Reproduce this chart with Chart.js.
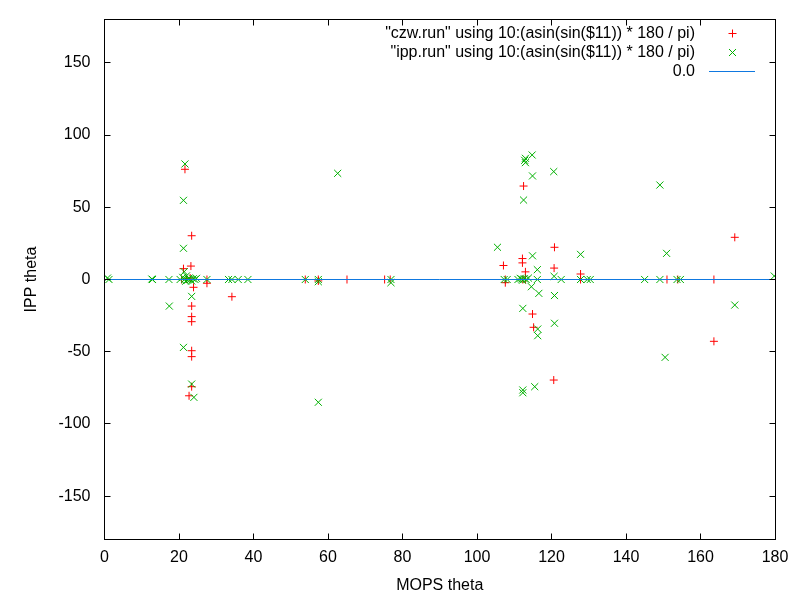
<!DOCTYPE html>
<html>
<head>
<meta charset="utf-8">
<script src="https://cdn.jsdelivr.net/npm/chart.js@4"></script>
<style>
  html, body { margin: 0; padding: 0; background: #fff; }
  #wrap { width: 800px; height: 600px; }
</style>
</head>
<body>
<div id="wrap"><canvas id="theta"></canvas></div>
<script>
// czw.run points (red +)
const czwX = [21.6, 23.4, 23.2, 21.2, 20.7, 22.0, 23.0, 23.9, 23.4, 23.4, 23.4, 23.4, 23.4, 23.4, 22.7,
  27.5, 27.5, 34.2, 53.9, 57.4, 57.4, 65.1, 75.2, 76.7, 107.1, 107.6, 107.6, 112.5, 120.8, 112.2,
  112.2, 113.0, 120.7, 127.8, 127.8, 112.3, 113.0, 114.9, 115.2, 120.6, 151.0, 153.9, 163.6, 163.6, 169.2];
const czwY = [76.3, 30.3, 9.3, 7.5, 0, 0.3, 1.0, -5.4, -18.4, -25.7, -29.2, -49.3, -53.4, -74.2, -80.5,
  0, -2.6, -11.9, 0, 0, -1, 0, 0, 0, 9.7, 0, -2.2, 64.7, 22.3, 14.5,
  11.5, 5.3, 7.9, 3.8, 0, 0, 0, -23.9, -33.1, -69.6, 0, 0, 0, -42.8, 29.2];

// ipp.run points (green x)
const ippX = [0.8, 1.2, 12.7, 12.9, 17.3, 20.3, 21.6, 21.2, 21.2, 21.4,
  21.0, 21.5, 22.0, 22.3, 22.7, 23.0, 23.4, 23.8, 24.3, 24.7, 21.8, 22.5,
  23.4, 17.4, 21.2, 23.4, 24.0, 27.5, 33.3, 34.2, 35.9, 38.5,
  53.9, 57.4, 57.4, 62.6, 76.9, 76.9, 57.4,
  114.8, 113.0, 113.0, 112.8, 114.9, 120.6, 112.5, 105.5, 114.9, 127.8, 116.2, 120.7, 107.3, 108.1,
  111.0, 111.6, 112.2, 112.7, 113.2, 113.8, 112.0,
  116.2, 122.6, 127.8, 129.6, 130.4, 114.6, 116.6, 120.8, 112.3, 120.8, 116.3, 116.3, 115.5, 112.3, 112.3,
  149.1, 150.9, 145.0, 149.1, 153.7, 154.6, 179.8, 169.2, 150.5];
const ippY = [1, 0, 0.3, 0, 0, 0, 80, 54.8, 21.6, 5.4,
  1.5, 0, 2.5, -0.5, 1, 0, -1, 0.5, 0, 0.8, -1.2, 0.3,
  -11.7, -18.4, -47, -72.4, -81.6, 0, 0, 0, 0, 0,
  0, 0, -1.5, 73.5, 0, -2.2, -85,
  86.2, 83.9, 80.9, 82.5, 71.7, 74.7, 55, 22.3, 16.4, 17.4, 6.8, 2.2, 0, 0,
  0, 0.8, -0.5, 0.5, 0, 1, 0.3,
  0, 0, 0, 0, 0, -5, -9.6, -11.1, -20, -30.3, -34.3, -38.9, -74.2, -76.5, -78.4,
  65.4, 18.1, 0, 0, 0, 0, 2.4, -17.7, -53.9];

const xTicks = [0, 20, 40, 60, 80, 100, 120, 140, 160, 180];
const yTicks = [-150, -100, -50, 0, 50, 100, 150];
const legendLabels = [
  '"czw.run" using 10:(asin(sin($11)) * 180 / pi)',
  '"ipp.run" using 10:(asin(sin($11)) * 180 / pi)',
  "0.0",
];

const RED = "#ff0000";
const GREEN = "#00b000";
const BLUE = "#0f78e0";
const FONT = "Liberation Sans";
const FSIZE = 16;

function zip(xs, ys) {
  return xs.map((x, i) => ({ x: x, y: ys[i] }));
}

// inward ticks on all four sides + frame, like gnuplot
const frameTicks = {
  id: "frameTicks",
  afterDraw(chart) {
    const c = chart.ctx;
    const a = chart.chartArea;
    const xs = chart.scales.x;
    const ys = chart.scales.y;
    const len = 6;
    const L = Math.floor(a.left) + 0.5, R = Math.floor(a.right) + 0.5;
    const T = Math.floor(a.top) + 0.5, B = Math.floor(a.bottom) + 0.5;
    c.save();
    c.strokeStyle = "#000";
    c.lineWidth = 1;
    c.beginPath();
    xTicks.forEach((v) => {
      const px = Math.floor(xs.getPixelForValue(v)) + 0.5;
      c.moveTo(px, B);
      c.lineTo(px, B - len);
      c.moveTo(px, T);
      c.lineTo(px, T + len);
    });
    yTicks.forEach((v) => {
      const py = Math.floor(ys.getPixelForValue(v)) + 0.5;
      c.moveTo(L, py);
      c.lineTo(L + len, py);
      c.moveTo(R, py);
      c.lineTo(R - len, py);
    });
    c.stroke();
    c.strokeRect(L, T, R - L, B - T);
    c.restore();
  },
};

// gnuplot style key: text right-aligned, sample on the right
const keyBox = {
  id: "keyBox",
  afterDraw(chart) {
    const c = chart.ctx;
    const textRight = 695;
    const sampleX = 732.5;
    const rows = [33.5, 52.5, 71.5];
    c.save();
    c.font = FSIZE + "px '" + FONT + "'";
    c.fillStyle = "#000";
    c.textAlign = "right";
    c.textBaseline = "middle";
    legendLabels.forEach((t, i) => c.fillText(t, textRight, rows[i]));
    c.lineWidth = 1;
    c.strokeStyle = RED;
    c.beginPath();
    c.moveTo(sampleX - 4, rows[0]);
    c.lineTo(sampleX + 4, rows[0]);
    c.moveTo(sampleX, rows[0] - 4);
    c.lineTo(sampleX, rows[0] + 4);
    c.stroke();
    c.strokeStyle = GREEN;
    c.beginPath();
    c.moveTo(sampleX - 3.5, rows[1] - 3.5);
    c.lineTo(sampleX + 3.5, rows[1] + 3.5);
    c.moveTo(sampleX + 3.5, rows[1] - 3.5);
    c.lineTo(sampleX - 3.5, rows[1] + 3.5);
    c.stroke();
    c.strokeStyle = BLUE;
    c.beginPath();
    c.moveTo(709, rows[2]);
    c.lineTo(755, rows[2]);
    c.stroke();
    c.restore();
  },
};

new Chart(document.getElementById("theta"), {
  type: "scatter",
  data: {
    datasets: [
      {
        label: legendLabels[0],
        data: zip(czwX, czwY),
        pointStyle: "cross",
        pointRadius: 4,
        pointHoverRadius: 4,
        borderColor: RED,
        backgroundColor: RED,
        pointBorderWidth: 1,
        order: 3,
      },
      {
        label: legendLabels[1],
        data: zip(ippX, ippY),
        pointStyle: "crossRot",
        pointRadius: 5,
        pointHoverRadius: 5,
        borderColor: GREEN,
        backgroundColor: GREEN,
        pointBorderWidth: 1,
        order: 2,
      },
      {
        type: "line",
        label: legendLabels[2],
        data: [{ x: 0, y: 0 }, { x: 180, y: 0 }],
        borderColor: BLUE,
        borderWidth: 1,
        pointRadius: 0,
        order: 1,
      },
    ],
  },
  options: {
    responsive: true,
    maintainAspectRatio: false,
    animation: false,
    events: [],
    layout: { padding: { top: 19.5, right: 25, left: 0, bottom: 0 } },
    plugins: {
      legend: { display: false },
      tooltip: { enabled: false },
    },
    scales: {
      x: {
        type: "linear",
        min: 0,
        max: 180,
        afterBuildTicks: (s) => { s.ticks = xTicks.map((v) => ({ value: v })); },
        afterFit: (s) => { s.height = 60.5; s.paddingLeft = 0; s.paddingRight = 0; },
        grid: { display: false, drawTicks: false },
        border: { display: false },
        ticks: { color: "#000", padding: 8, maxRotation: 0, font: { family: FONT, size: FSIZE } },
        title: {
          display: true,
          text: "MOPS theta",
          color: "#000",
          font: { family: FONT, size: FSIZE },
          padding: { top: 0, bottom: 5 },
        },
      },
      y: {
        type: "linear",
        min: -180,
        max: 180,
        afterBuildTicks: (s) => { s.ticks = yTicks.map((v) => ({ value: v })); },
        afterFit: (s) => { s.width = 104.5; s.paddingTop = 0; s.paddingBottom = 0; },
        grid: { display: false, drawTicks: false },
        border: { display: false },
        ticks: { color: "#000", padding: 14, font: { family: FONT, size: FSIZE } },
        title: {
          display: true,
          text: "IPP theta",
          color: "#000",
          font: { family: FONT, size: FSIZE },
          padding: { top: 22, bottom: 0 },
        },
      },
    },
  },
  plugins: [frameTicks, keyBox],
});
</script>
</body>
</html>
